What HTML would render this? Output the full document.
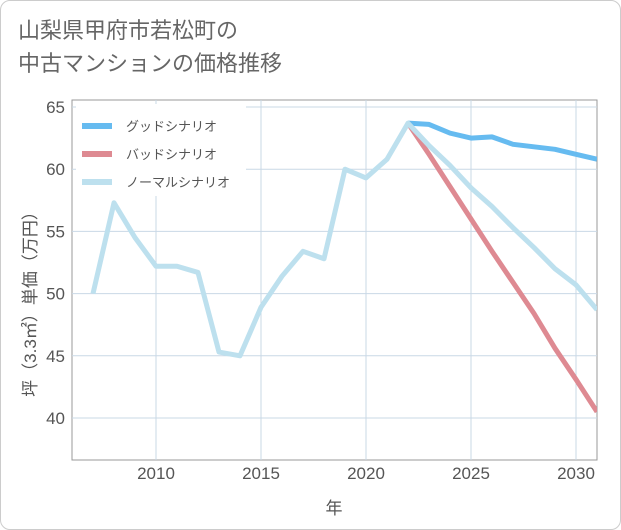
<!DOCTYPE html>
<html><head><meta charset="utf-8"><style>
body{margin:0;background:#fff;}
#card{position:absolute;left:0;top:0;width:619px;height:528px;border:1px solid #ccc;border-radius:10px;background:#fff;}
#title{position:absolute;left:18px;top:14px;font:22px "Liberation Sans","Noto Sans CJK JP",sans-serif;color:#666;line-height:33px;}
svg{position:absolute;left:0;top:0;}
text{font-family:"Liberation Sans","Noto Sans CJK JP",sans-serif;}
</style></head><body>
<div id="card"></div>
<div id="title">山梨県甲府市若松町の<br>中古マンションの価格推移</div>
<svg id="chart" width="621" height="530"></svg>
<script>
const years=[2007,2008,2009,2010,2011,2012,2013,2014,2015,2016,2017,2018,2019,2020,2021,2022,2023,2024,2025,2026,2027,2028,2029,2030,2031];
const normal=[50.0,57.3,54.5,52.2,52.2,51.7,45.3,45.0,48.9,51.4,53.4,52.8,60.0,59.3,60.8,63.7,61.9,60.3,58.5,57.0,55.3,53.7,52.0,50.7,48.7];
const goodYears=[2022,2023,2024,2025,2026,2027,2028,2029,2030,2031];
const good=[63.7,63.6,62.9,62.5,62.6,62.0,61.8,61.6,61.2,60.8];
const bad=[63.7,61.2,58.6,56.0,53.4,50.9,48.4,45.6,43.1,40.5];
const xTicks=[2010,2015,2020,2025,2030];
const yTicks=[40,45,50,55,60,65];
const L=72,R=597,T=100,B=460;
const x=y=>156+(y-2010)*21;
const yv=v=>107+(65-v)*12.44;
const svg=document.getElementById('chart');
const NS='http://www.w3.org/2000/svg';
function mk(t,a){const e=document.createElementNS(NS,t);for(const k in a)e.setAttribute(k,a[k]);svg.appendChild(e);return e;}
let r=mk('rect',{x:L,y:T,width:R-L,height:B-T,fill:'none',stroke:'#999','stroke-width':1});


yTicks.forEach(v=>{
 const g=mk('line',{x1:L,x2:R,y1:yv(v),y2:yv(v),stroke:'#c9d8e6','stroke-width':1});
 
 
 const t=mk('text',{x:L-7,y:yv(v)+6,'text-anchor':'end','font-size':17,fill:'#555'});t.textContent=v;
 
 
});
xTicks.forEach(v=>{
 const g=mk('line',{x1:x(v),x2:x(v),y1:T,y2:B,stroke:'#c9d8e6','stroke-width':1});
 
 
 const t=mk('text',{x:x(v),y:B+19,'text-anchor':'middle','font-size':17,fill:'#555'});t.textContent=v;
 
 
});
const clip=mk('clipPath',{id:'c'});const cr=document.createElementNS(NS,'rect');
cr.setAttribute('x',L);cr.setAttribute('y',T);cr.setAttribute('width',R-L);cr.setAttribute('height',B-T);clip.appendChild(cr);
function line(xs,vs,col,name){
 const p=mk('polyline',{points:xs.map((yr,i)=>x(yr)+','+yv(vs[i])).join(' '),fill:'none',stroke:col,'stroke-width':5,'stroke-linejoin':'round','clip-path':'url(#c)'});
 
 
}
line(goodYears,good,'#66bbf0','good-scenario-line');
line(goodYears,bad,'#de8a92','bad-scenario-line');
line(years,normal,'#bde0ee','normal-scenario-line');
const lr=mk('rect',{x:76,y:104,width:170,height:92,fill:'#fff'});


[['グッドシナリオ','#66bbf0'],['バッドシナリオ','#de8a92'],['ノーマルシナリオ','#bde0ee']].forEach((d,i)=>{
 const yy=126+i*28;
 const s=mk('line',{x1:82,x2:112,y1:yy,y2:yy,stroke:d[1],'stroke-width':6});
 
 
 const t=mk('text',{x:126,y:yy+5,'font-size':13,fill:'#555'});t.textContent=d[0];
 
 
});
const xt=mk('text',{x:334,y:514,'text-anchor':'middle','font-size':17,fill:'#555'});xt.textContent='年';


const yt=mk('text',{x:0,y:0,'text-anchor':'middle','font-size':17,fill:'#555',transform:'translate(36,300) rotate(-90)'});yt.textContent='坪（3.3㎡）単価（万円）';


</script>
</body></html>
